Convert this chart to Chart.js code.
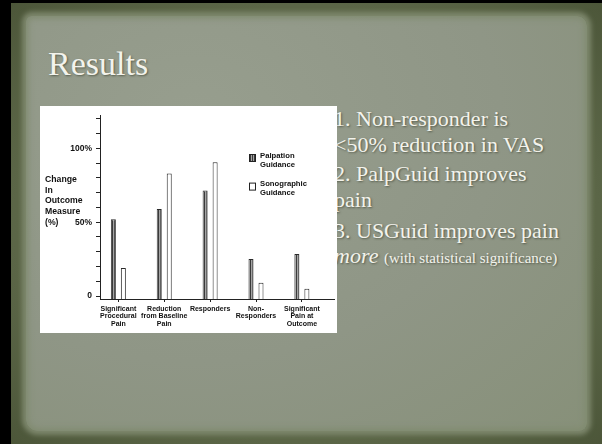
<!DOCTYPE html>
<html>
<head>
<meta charset="utf-8">
<script src="https://cdn.jsdelivr.net/npm/chart.js@4"></script>
<style>
  html, body { margin: 0; padding: 0; }
  body { width: 602px; height: 444px; background: #000; position: relative; overflow: hidden; }
  #slide {
    position: absolute; left: 11px; top: 3px; width: 591px; height: 441px;
    background: radial-gradient(ellipse at 50% 50%, #66714f 0%, #5b6647 70%, #4c5639 100%);
  }
  #paper {
    position: absolute; left: 15px; top: 13px; width: 561px; height: 415px;
    background: radial-gradient(ellipse at 30% 25%, #979e8e 0%, #8f9686 55%, #879079 100%);
    border-radius: 6px 10px 8px 12px;
    box-shadow: 0 0 5px 4px #7d876c, inset 0 0 6px 2px #7f8a6e;
  }
  .txt { position: absolute; color: #f3f3ec; text-shadow: 1px 1px 2px rgba(40,45,30,0.55);
         font-family: "Liberation Serif", "Times New Roman", serif; white-space: nowrap; }
  #title { left: 48px; top: 47px; font-size: 34px; line-height: 34px; }
  .line { left: 334px; font-size: 22px; line-height: 22px; }
  .small { font-size: 15px; font-style: normal; }
  #chartBox { position: absolute; left: 40px; top: 106px; width: 297px; height: 227px; background: #fff; z-index: 2; }
</style>
</head>
<body>
<div id="slide"><div id="paper"></div></div>
<div class="txt" id="title">Results</div>
<div class="txt line" style="top:107.6px">1. Non-responder is</div>
<div class="txt line" style="top:134.3px">&lt;50% reduction in VAS</div>
<div class="txt line" style="top:163.3px">2. PalpGuid improves</div>
<div class="txt line" style="top:188.8px">pain</div>
<div class="txt line" style="top:219.8px">3. USGuid improves pain</div>
<div class="txt line" style="top:244.8px"><i>more</i> <span class="small">(with statistical significance)</span></div>
<div id="chartBox"><canvas id="chart" width="297" height="227"></canvas></div>
<script>
// ===== DATA =====
const categories = [
  ['Significant', 'Procedural', 'Pain'],
  ['Reduction', 'from Baseline', 'Pain'],
  ['Responders'],
  ['Non-', 'Responders'],
  ['Significant', 'Pain at', 'Outcome']
];
const palpation = [52, 59, 71.5, 25, 28.5];
const sonographic = [19, 83, 90.5, 9, 5];
const seriesNames = ['Palpation Guidance', 'Sonographic Guidance'];
const yTickValues = [0, 50, 100];
const yTickText = ['0', '50%', '100%'];
const yTitle = ['Change', 'In', 'Outcome', 'Measure', '(%)'];

// ===== STRIPED FILL FOR PALPATION BARS =====
function stripes() {
  const c = document.createElement('canvas');
  c.width = 2; c.height = 1;
  const g = c.getContext('2d');
  g.fillStyle = '#3a3a3a'; g.fillRect(0, 0, 1, 1);
  g.fillStyle = '#a4a4a4'; g.fillRect(1, 0, 1, 1);
  return g.createPattern(c, 'repeat');
}

const FONT = '"Liberation Sans", Arial, Helvetica, sans-serif';

// y title + legend drawn inside the figure, as in the scanned plot
const sideText = {
  id: 'sideText',
  afterDraw(chart) {
    const ctx = chart.ctx;
    ctx.save();
    ctx.textBaseline = 'middle';
    ctx.fillStyle = '#111';
    ctx.font = 'bold 8.7px ' + FONT;
    yTitle.forEach((t, i) => ctx.fillText(t, 5, 73.5 + i * 10.7));
    ctx.font = 'bold 7.7px ' + FONT;
    chart.data.datasets.forEach((ds, i) => {
      const y = 48 + i * 28.6;
      ctx.fillStyle = ds.backgroundColor;
      ctx.fillRect(209, y, 7, 8);
      ctx.strokeStyle = '#222';
      ctx.lineWidth = 1;
      ctx.strokeRect(209.5, y + 0.5, 6, 7);
      ctx.fillStyle = '#111';
      ds.label.split(' ').forEach((t, j) => ctx.fillText(t, 220, y + 1.5 + j * 9));
    });
    ctx.restore();
  }
};

new Chart(document.getElementById('chart').getContext('2d'), {
  type: 'bar',
  data: {
    datasets: [
      { label: seriesNames[0], data: palpation.map((v, i) => ({ x: i, y: v })),
        backgroundColor: stripes(), borderColor: '#2a2a2a', borderWidth: 1, base: -2 },
      { label: seriesNames[1], data: sonographic.map((v, i) => ({ x: i, y: v })),
        backgroundColor: '#ffffff', borderColor: '#2a2a2a', borderWidth: 1, base: -2 }
    ]
  },
  options: {
    responsive: false,
    animation: false,
    devicePixelRatio: 1,
    categoryPercentage: 0.436,
    barPercentage: 0.5,
    layout: { padding: { top: 6, right: 3, left: 0, bottom: 0 } },
    plugins: { legend: { display: false }, tooltip: { enabled: false } },
    scales: {
      x: {
        type: 'linear', min: -0.4, max: 4.7, offset: false,
        afterFit: s => { s.height = 34; },
        grid: { display: true, drawOnChartArea: false, offset: false, color: '#222', tickLength: 3 },
        border: { display: true, color: '#222', width: 1 },
        ticks: {
          stepSize: 1, includeBounds: false, autoSkip: false, maxRotation: 0, padding: 3,
          color: '#111', font: { family: FONT, size: 7, weight: 'bold', lineHeight: 1.1 },
          callback: v => categories[v] || ''
        }
      },
      y: {
        min: -2, max: 122.5,
        afterFit: s => { s.width = 60; },
        grid: { display: true, drawOnChartArea: false, color: '#222', tickLength: 4 },
        border: { display: true, color: '#222', width: 1 },
        ticks: {
          stepSize: 10, includeBounds: false, padding: 4,
          color: '#111', font: { family: FONT, size: 8.5, weight: 'bold' },
          callback: v => { const k = yTickValues.indexOf(v); return k >= 0 ? yTickText[k] : ''; }
        }
      }
    }
  },
  plugins: [sideText]
});
</script>
</body>
</html>
